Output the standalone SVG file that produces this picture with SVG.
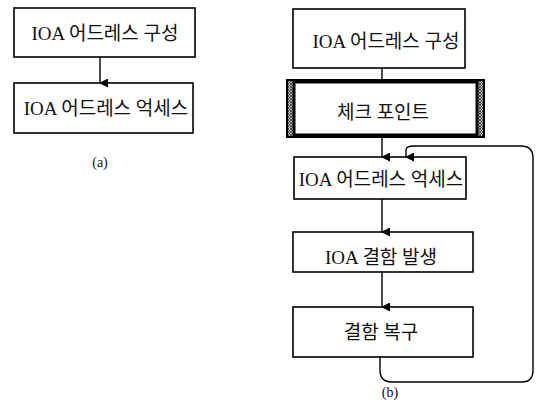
<svg xmlns="http://www.w3.org/2000/svg" width="542" height="404" viewBox="0 0 542 404">
<style>
.box{fill:#fff;stroke:#000;stroke-width:1.6}
.t{font-family:"Liberation Serif","Noto Sans CJK KR",serif;font-size:19px;fill:#111;text-anchor:middle}
.c{fill:none;stroke:#000;stroke-width:1.4}
</style>
<defs>
<marker id="ah" markerWidth="9" markerHeight="9" refX="4.5" refY="8" orient="auto" markerUnits="userSpaceOnUse" viewBox="0 0 9 9">
<path d="M0,0 L9,0 L4.5,9 Z" fill="#000"/>
</marker>
<pattern id="hatch" width="3" height="3" patternUnits="userSpaceOnUse">
<rect width="3" height="3" fill="#bbb"/>
<path d="M0,0 L3,3 M3,0 L0,3" stroke="#333" stroke-width="0.8"/>
</pattern>
</defs>
<rect width="542" height="404" fill="#fff"/>
<g id="a1"><rect class="box" x="14" y="8" width="181" height="49"/><text class="t" x="105" y="40">IOA 어드레스 구성</text></g>
<g id="a2"><rect class="box" x="14" y="83" width="179" height="50"/><text class="t" x="106" y="115">IOA 어드레스 억세스</text></g>
<text class="t" x="100" y="167" style="font-size:14px">(a)</text>
<g id="b1"><rect class="box" x="293" y="9" width="172" height="59"/><text class="t" x="386" y="48">IOA 어드레스 구성</text></g>
<g id="b2"><rect x="287" y="80" width="197" height="57" fill="#fff" stroke="#000" stroke-width="2"/><rect x="288" y="81" width="6" height="55" fill="url(#hatch)"/><rect x="477" y="81" width="6" height="55" fill="url(#hatch)"/><rect x="294" y="82" width="183" height="53" fill="none" stroke="#000" stroke-width="3"/><text class="t" x="383" y="119">체크 포인트</text></g>
<g id="b3"><rect class="box" x="294" y="157" width="172" height="42"/><text class="t" x="381" y="186">IOA 어드레스 억세스</text></g>
<g id="b4"><rect class="box" x="293" y="232" width="180" height="40"/><text class="t" x="381" y="264">IOA 결함 발생</text></g>
<g id="b5"><rect class="box" x="293" y="307" width="180" height="50"/><text class="t" x="381" y="339">결함 복구</text></g>
<text class="t" x="390" y="397" style="font-size:14px">(b)</text>
<g id="connectors">
<line class="c" x1="100" y1="57" x2="100" y2="83" marker-end="url(#ah)"/>
<line class="c" x1="382" y1="68" x2="382" y2="80"/>
<line class="c" x1="382" y1="137" x2="382" y2="157" marker-end="url(#ah)"/>
<line class="c" x1="382" y1="199" x2="382" y2="232" marker-end="url(#ah)"/>
<line class="c" x1="382" y1="272" x2="382" y2="307" marker-end="url(#ah)"/>
<path class="c" d="M380,357 L380,370 Q380,382 392,382 L522,382 Q533,382 533,370 L533,158 Q533,146 521,146 L414,146 Q406,146 406,150 L406,157" marker-end="url(#ah)"/>
</g>
</svg>
